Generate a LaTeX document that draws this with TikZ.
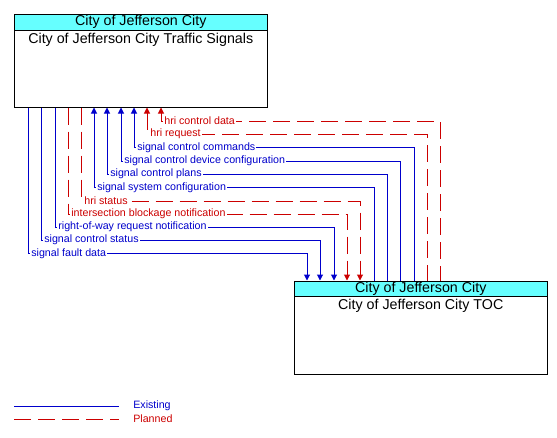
\documentclass[tikz,border=0pt]{standalone}
\usepackage{fontspec}
\setmainfont{Liberation Sans}
\usetikzlibrary{arrows.meta}
\definecolor{exblue}{RGB}{0,0,204}
\definecolor{plred}{RGB}{204,0,0}
\definecolor{hdrcyan}{RGB}{102,255,255}
\tikzset{
  box/.style={draw=black, line width=0.75pt, fill=white, inner sep=0pt},
  hdr/.style={draw=black, line width=0.75pt, fill=hdrcyan, inner sep=0pt, font=\fontsize{10.7}{12}\selectfont},
  ttl/.style={inner sep=1.5pt, font=\fontsize{10.7}{12}\selectfont},
  exist/.style={draw=exblue, line width=0.75pt},
  plan/.style={draw=plred, line width=0.75pt, dash pattern=on 12.75pt off 5.25pt},
  tip/.style={-{Triangle[width=4.5pt,length=4.5pt]}},
  rtip/.style={{Triangle[width=4.5pt,length=4.5pt]}-},
  lab/.style={anchor=west, fill=white, inner sep=0.8pt, font=\fontsize{8}{9}\selectfont},
  exlab/.style={lab, text=exblue},
  pllab/.style={lab, text=plred},
}
\begin{document}
\begin{tikzpicture}[x=0.75pt,y=-0.75pt]
\useasboundingbox (0,0) rectangle (557,437);
% boxes
\node[box, minimum width=189.75pt, minimum height=69.75pt] (ts) at (140.75,60.5) {};
\node[hdr, minimum width=189.75pt, minimum height=12pt, anchor=north] (tsh) at (ts.north) {City of Jefferson City};
\node[ttl, anchor=north] (tst) at (tsh.south) {City of Jefferson City Traffic Signals};
\node[box, minimum width=189.75pt, minimum height=69.75pt] (toc) at (420.75,327.5) {};
\node[hdr, minimum width=189.75pt, minimum height=11.25pt, anchor=north] (toch) at (toc.north) {City of Jefferson City};
\node[ttl, anchor=north] (toct) at (toch.south) {City of Jefferson City TOC};
% flows TOC -> Traffic Signals
\draw[plan, rtip] (ts.south -| 161,0) -- (161,121) -| (toc.north -| 440,0);
\node[pllab] (l1) at (163,121) {hri control data};
\draw[plan, rtip] (ts.south -| 147,0) -- (147,134) -| (toc.north -| 427,0);
\node[pllab] (l2) at (149,134) {hri request};
\draw[exist, rtip] (ts.south -| 134,0) -- (134,147.5) -| (toc.north -| 414,0);
\node[exlab] (l3) at (136,147.5) {signal control commands};
\draw[exist, rtip] (ts.south -| 121,0) -- (121,161) -| (toc.north -| 400,0);
\node[exlab] (l4) at (123,161) {signal control device configuration};
\draw[exist, rtip] (ts.south -| 107,0) -- (107,174) -| (toc.north -| 387,0);
\node[exlab] (l5) at (109,174) {signal control plans};
\draw[exist, rtip] (ts.south -| 94,0) -- (94,187.5) -| (toc.north -| 374,0);
\node[exlab] (l6) at (96,187.5) {signal system configuration};
% flows Traffic Signals -> TOC
\draw[plan, tip] (ts.south -| 81,0) -- (81,201) -| (toc.north -| 360,0);
\node[pllab] (l7) at (83,201) {hri status};
\draw[plan, tip] (ts.south -| 68,0) -- (68,214) -| (toc.north -| 347,0);
\node[pllab] (l8) at (70,214) {intersection blockage notification};
\draw[exist, tip] (ts.south -| 55,0) -- (55,227) -| (toc.north -| 334,0);
\node[exlab] (l9) at (57,227) {right-of-way request notification};
\draw[exist, tip] (ts.south -| 41,0) -- (41,240) -| (toc.north -| 320,0);
\node[exlab] (l10) at (43,240) {signal control status};
\draw[exist, tip] (ts.south -| 28,0) -- (28,253.5) -| (toc.north -| 307,0);
\node[exlab] (l11) at (30,253.5) {signal fault data};
% legend
\coordinate (le1) at (14,406);
\coordinate (le2) at (119,406);
\coordinate (lp1) at (14,419);
\coordinate (lp2) at (119,419);
\draw[exist] (le1) -- (le2);
\draw[plan] (lp1) -- (lp2);
\node[exlab, fill=none] (lex) at (132,406) {Existing};
\node[pllab, fill=none] (lpl) at (132,419) {Planned};
\end{tikzpicture}
\end{document}
